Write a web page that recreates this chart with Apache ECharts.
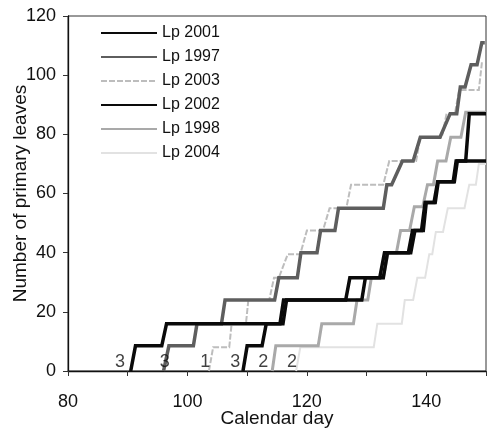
<!DOCTYPE html>
<html>
<head>
<meta charset="utf-8">
<script src="https://cdn.jsdelivr.net/npm/echarts@6/dist/echarts.min.js"></script>
<style>
html,body{margin:0;padding:0;background:#fff;}
#chart{width:487px;height:430px;}
</style>
</head>
<body>
<div id="chart"></div>
<script>
// ---- data ----
var seriesNames = ['Lp 2001', 'Lp 1997', 'Lp 2003', 'Lp 2002', 'Lp 1998', 'Lp 2004'];

var lp2001Days   = [90.5, 91.3, 95.7, 96.5, 115.5, 116.1, 126.5, 127.2, 132.2, 133, 137, 137.7, 139.2, 139.8, 141.3, 141.9, 144.5, 145, 150];
var lp2001Leaves = [0, 8.5, 8.5, 16, 16, 24, 24, 31.5, 31.5, 40, 40, 47.5, 47.5, 57, 57, 64, 64, 71, 71];

var lp1997Days   = [96, 96.9, 101, 101.6, 105.7, 106.3, 114.6, 115.3, 118.4, 119, 121.7, 122.3, 124.7, 125.3, 132.8, 133.4, 134.2, 136, 137.8, 139, 142.3, 144, 145.1, 145.7, 146.5, 147.5, 148.5, 149.3, 149.8];
var lp1997Leaves = [0, 8.5, 8.5, 16, 16, 24, 24, 31.5, 31.5, 40, 40, 47.5, 47.5, 55, 55, 63, 63, 71, 71, 79, 79, 87, 87, 96, 96, 103.5, 103.5, 111, 111];

var lp2003Days   = [103.6, 104.3, 107, 107.4, 109.8, 110.2, 113.7, 114.5, 115.3, 116.8, 118.9, 120, 122.7, 123.8, 126.6, 127.4, 132.8, 133.8, 138.3, 139, 142.6, 143.4, 144.8, 145.5, 148.8, 149.3, 149.6];
var lp2003Leaves = [0, 8, 8, 16, 16, 24, 24, 31.5, 31.5, 39.5, 39.5, 47.5, 47.5, 55, 55, 63, 63, 71, 71, 79, 79, 87, 87, 95, 95, 104, 104];

var lp2002Days   = [109.3, 110, 112.5, 113.2, 116, 116.6, 129.2, 129.8, 132.8, 133.5, 137.4, 138.1, 139.5, 140, 141.5, 142, 144.7, 145.2, 146.6, 147.2, 150];
var lp2002Leaves = [0, 8.5, 8.5, 16, 16, 24, 24, 31.5, 31.5, 40, 40, 47.5, 47.5, 57, 57, 64, 64, 71, 71, 87, 87];

var lp1998Days   = [114.2, 114.8, 121.9, 122.5, 127.8, 128.4, 130.2, 130.8, 132.8, 133.6, 135, 135.7, 137.2, 138, 139.4, 140.2, 141.2, 141.9, 143.3, 144.1, 145.8, 146.6, 150];
var lp1998Leaves = [0, 8.5, 8.5, 16, 16, 24, 24, 31.5, 31.5, 40, 40, 47.5, 47.5, 55.5, 55.5, 63, 63, 71, 71, 79, 79, 87.5, 87.5];

var lp2004Days   = [118.2, 118.9, 131.2, 131.8, 135.9, 136.4, 137.8, 138.5, 139.8, 140.5, 141, 141.6, 142.8, 143.6, 146.4, 147.2, 148.3, 148.8, 150];
var lp2004Leaves = [0, 8, 8, 16, 16, 24, 24, 31.5, 31.5, 39.5, 39.5, 47, 47, 55, 55, 63, 63, 70, 70];

var startLabelTexts  = ['3', '3', '1', '3', '2', '2'];
var startLabelDays   = [88.7, 96.2, 103, 108, 112.7, 117.5];
var startLabelLeaves = [3, 3, 3, 3, 3, 3];

var xTicks = [80, 100, 120, 140];
var yTicks = [0, 20, 40, 60, 80, 100, 120];

// ---- build ----
function pairs(d, v) { return d.map(function (x, i) { return [x, v[i]]; }); }

var FONT = '"Liberation Sans", Arial, sans-serif';

function lineSeries(name, days, leaves, color, width, type, z) {
  return {
    name: name, type: 'line', data: pairs(days, leaves), symbol: 'none', showSymbol: false,
    lineStyle: { color: color, width: width, type: type, cap: 'butt', join: 'miter' },
    itemStyle: { color: color },
    z: z, silent: true
  };
}

var chart = echarts.init(document.getElementById('chart'), null, { renderer: 'canvas' });
chart.setOption({
  animation: false,
  backgroundColor: '#fff',
  grid: { left: 68, right: 1, top: 16, bottom: 59, containLabel: false, outerBoundsMode: 'none',
          show: true, borderColor: '#333', borderWidth: 1 },
  legend: {
    data: seriesNames,
    orient: 'vertical', left: 100, top: 25,
    itemWidth: 56, itemHeight: 14, itemGap: 8, padding: 0,
    itemStyle: { opacity: 0 },
    textStyle: { fontFamily: FONT, fontSize: 16, color: '#111' },
    selectedMode: false
  },
  xAxis: {
    type: 'value', min: 80, max: 150, interval: 10,
    name: 'Calendar day', nameLocation: 'middle', nameGap: 38, nameMoveOverlap: false,
    nameTextStyle: { fontFamily: FONT, fontSize: 19, color: '#111' },
    axisLine: { lineStyle: { color: '#111', width: 1.3 } },
    axisTick: { show: true, length: 5, lineStyle: { color: '#333' } },
    axisLabel: {
      fontFamily: FONT, fontSize: 18, color: '#111', margin: 22,
      formatter: function (v) { return xTicks.indexOf(v) >= 0 ? String(v) : ''; }
    },
    splitLine: { show: false }
  },
  yAxis: {
    type: 'value', min: 0, max: 120, interval: 20,
    name: 'Number of primary leaves', nameLocation: 'middle', nameGap: 38, nameMoveOverlap: false,
    nameTextStyle: { fontFamily: FONT, fontSize: 19, color: '#111' },
    axisLine: { show: true, lineStyle: { color: '#111', width: 1.3 } },
    axisTick: { show: true, length: 5, lineStyle: { color: '#333' } },
    axisLabel: {
      fontFamily: FONT, fontSize: 18, color: '#111', margin: 12,
      formatter: function (v) { return yTicks.indexOf(v) >= 0 ? String(v) : ''; }
    },
    splitLine: { show: false }
  },
  series: [
    lineSeries('Lp 2004', lp2004Days, lp2004Leaves, '#e2e2e2', 2, 'solid', 2),
    lineSeries('Lp 1998', lp1998Days, lp1998Leaves, '#a9a9a9', 3, 'solid', 3),
    lineSeries('Lp 2003', lp2003Days, lp2003Leaves, '#bdbdbd', 2, [6, 2], 4),
    lineSeries('Lp 1997', lp1997Days, lp1997Leaves, '#5e5e5e', 3.5, 'solid', 5),
    lineSeries('Lp 2002', lp2002Days, lp2002Leaves, '#0a0a0a', 3.5, 'solid', 6),
    lineSeries('Lp 2001', lp2001Days, lp2001Leaves, '#0a0a0a', 3.5, 'solid', 7),
    {
      name: 'start labels', type: 'scatter', symbolSize: 0, silent: true, z: 8,
      data: startLabelDays.map(function (d, i) { return [d, startLabelLeaves[i], startLabelTexts[i]]; }),
      label: {
        show: true, position: 'inside', fontFamily: FONT, fontSize: 18, color: '#111',
        formatter: function (p) { return p.value[2]; }
      }
    }
  ]
});
</script>
</body>
</html>
